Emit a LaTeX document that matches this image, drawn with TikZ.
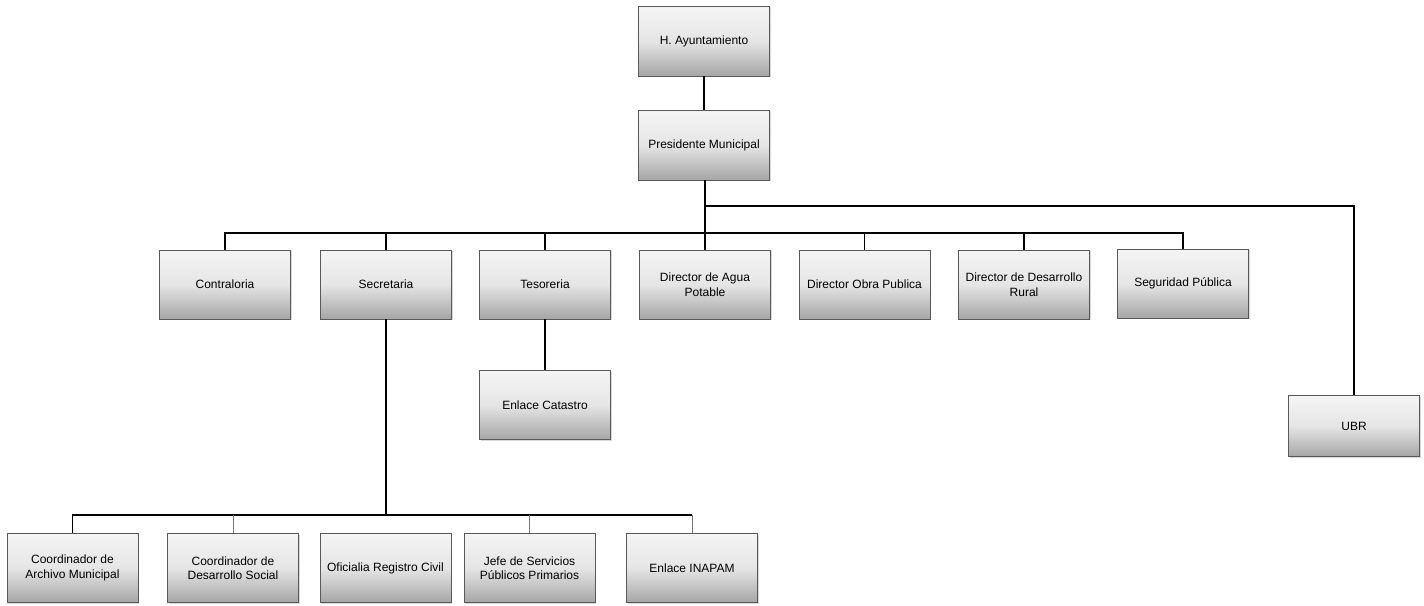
\documentclass[tikz,border=0pt]{standalone}
\usepackage{fontspec}
\setmainfont{Liberation Sans}
\usetikzlibrary{shadows}
\begin{document}
\begin{tikzpicture}[x=1pt,y=-1pt,
  orgbox/.style={draw=black!65, line width=0.8pt, top color=black!4, bottom color=black!35,
    middle color=black!10, minimum width=131pt, minimum height=69pt, align=center,
    font=\fontsize{12}{14.5}\selectfont, inner sep=2pt,
    drop shadow={shadow xshift=1pt, shadow yshift=-1pt, fill=black!25, opacity=0.6}},
  mainline/.style={line width=1.6pt, black},
  thinline/.style={line width=1pt, black!55}]
\useasboundingbox (0,0) rectangle (1424,605);
% top
\node[orgbox, minimum height=70pt] (ayto) at (704,41) {H. Ayuntamiento};
\node[orgbox, minimum height=70pt] (pres) at (704,145) {Presidente Municipal};
% second level
\node[orgbox] (contra) at (225,284.5) {Contraloria};
\node[orgbox] (secre) at (386,284.5) {Secretaria};
\node[orgbox] (teso) at (545,284.5) {Tesoreria};
\node[orgbox] (agua) at (705,284.5) {Director de Agua\\Potable};
\node[orgbox] (obra) at (864.5,284.5) {Director Obra Publica};
\node[orgbox] (rural) at (1024,284.5) {Director de Desarrollo\\Rural};
\node[orgbox] (segu) at (1183,283.5) {Seguridad Pública};
\node[orgbox, minimum height=61pt] (ubr) at (1354,426) {UBR};
\node[orgbox] (cata) at (545,405) {Enlace Catastro};
% bottom row
\node[orgbox] (archivo) at (72.5,568) {Coordinador de\\Archivo Municipal};
\node[orgbox] (social) at (233,568) {Coordinador de\\Desarrollo Social};
\node[orgbox] (ofic) at (385.5,568) {Oficialia Registro Civil};
\node[orgbox] (jefe) at (529.5,568) {Jefe de Servicios\\Públicos Primarios};
\node[orgbox] (inapam) at (692,568) {Enlace INAPAM};
% connectors
\coordinate (bar) at (705,233);
\coordinate (ubrj) at (705,206);
\coordinate (sbar) at (386,515);
\draw[mainline] (ayto.south) -- (pres.north);
\draw[mainline] (pres.south -| bar) -- (bar);
\draw[mainline] (bar) -| (contra.north);
\draw[mainline] (bar) -| (segu.north);
\draw[mainline] (bar -| secre.north) -- (secre.north);
\draw[mainline] (bar -| teso.north) -- (teso.north);
\draw[mainline] (bar) -- (agua.north -| bar);
\draw[mainline] (bar -| obra.north) -- (obra.north);
\draw[mainline] (bar -| rural.north) -- (rural.north);
\draw[mainline] (ubrj) -| (ubr.north);
\draw[mainline] (teso.south) -- (cata.north);
\draw[mainline] (secre.south) -- (sbar);
\draw[mainline] (sbar) -| (archivo.north);
\draw[mainline] (sbar) -- (sbar -| inapam.north);
\draw[thinline] (sbar -| social.north) -- (social.north);
\draw[thinline] (sbar -| jefe.north) -- (jefe.north);
\draw[thinline] (sbar -| inapam.north) -- (inapam.north);
\end{tikzpicture}
\end{document}
